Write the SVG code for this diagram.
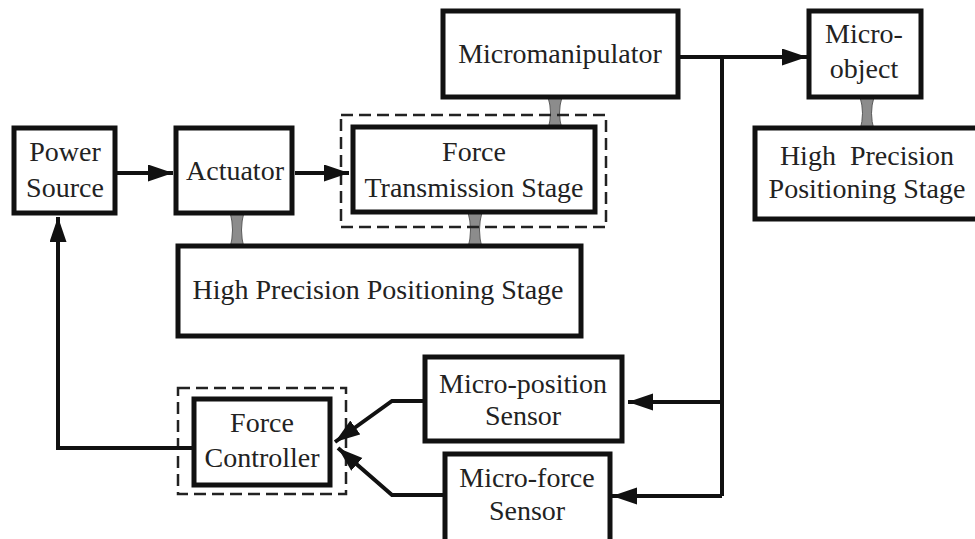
<svg xmlns="http://www.w3.org/2000/svg" width="975" height="539" viewBox="0 0 975 539" font-family="'Liberation Serif', 'Times New Roman', Times, 'DejaVu Serif', serif">
<style>
.box{fill:#fff;stroke:#111;stroke-width:5}
.dash{fill:none;stroke:#222;stroke-width:2.5;stroke-dasharray:12 6}
.ln{fill:none;stroke:#111;stroke-width:4}
.arr{marker-end:url(#ah)}
.hg{fill:#8c8c8c;stroke:#5a5a5a;stroke-width:1}
text{font-family:'Liberation Serif','Times New Roman',Times,'DejaVu Serif',serif;font-size:28px;fill:#222;text-anchor:middle}
</style>
<defs>
<marker id="ah" markerUnits="userSpaceOnUse" markerWidth="26" markerHeight="18" refX="25" refY="8.5" orient="auto">
<path d="M0,0 L25,8.5 L0,17 Z" fill="#111"/>
</marker>
</defs>
<rect width="975" height="539" fill="#fff"/>
<g id="links">
<path class="hg" d="M548,97 L562,97 Q557,113 562,129 L548,129 Q553,113 548,97 Z"/>
<path class="hg" d="M230,212 L244,212 Q239,230 244,248 L230,248 Q235,230 230,212 Z"/>
<path class="hg" d="M468,212 L482,212 Q477,230 482,248 L468,248 Q473,230 468,212 Z"/>
<path class="hg" d="M860,97 L874,97 Q869,113 874,130 L860,130 Q865,113 860,97 Z"/>
</g>
<g id="dashed-groups">
<rect class="dash" x="341" y="115" width="265" height="112"/>
<rect class="dash" x="178" y="388" width="168" height="106"/>
</g>
<g id="power-source">
<rect class="box" x="14" y="128" width="101" height="85"/>
<text x="65" y="161">Power</text>
<text x="65" y="197">Source</text>
</g>
<g id="actuator">
<rect class="box" x="176" y="128" width="116" height="85"/>
<text x="235" y="180">Actuator</text>
</g>
<g id="force-transmission-stage">
<rect class="box" x="353" y="127" width="242" height="85"/>
<text x="474" y="161">Force</text>
<text x="474" y="197">Transmission Stage</text>
</g>
<g id="micromanipulator">
<rect class="box" x="443" y="11" width="235" height="86"/>
<text x="560" y="63">Micromanipulator</text>
</g>
<g id="micro-object">
<rect class="box" x="809" y="11" width="112" height="86"/>
<text x="864" y="43">Micro-</text>
<text x="864" y="78">object</text>
</g>
<g id="hpps-right">
<rect class="box" x="755" y="128" width="235" height="91"/>
<text x="867" y="165" xml:space="preserve">High  Precision</text>
<text x="867" y="198">Positioning Stage</text>
</g>
<g id="hpps-main">
<rect class="box" x="178" y="246" width="403" height="90"/>
<text x="378" y="299">High Precision Positioning Stage</text>
</g>
<g id="force-controller">
<rect class="box" x="194" y="399" width="136" height="86"/>
<text x="262" y="432">Force</text>
<text x="262" y="467">Controller</text>
</g>
<g id="micro-position-sensor">
<rect class="box" x="425" y="357" width="197" height="84"/>
<text x="523" y="393">Micro-position</text>
<text x="523" y="425">Sensor</text>
</g>
<g id="micro-force-sensor">
<rect class="box" x="445" y="454" width="165" height="92"/>
<text x="527" y="487">Micro-force</text>
<text x="527" y="520">Sensor</text>
</g>
<g id="connectors">
<path class="ln arr" d="M117,173 H173"/>
<path class="ln arr" d="M295,173 H349"/>
<path class="ln arr" d="M680,57 H807"/>
<path class="ln" d="M722,57 V496"/>
<path class="ln arr" d="M722,402 H628"/>
<path class="ln arr" d="M722,496 H612"/>
<path class="ln arr" d="M423,401 H392 L335,442"/>
<path class="ln arr" d="M443,495 H392 L338,448"/>
<path class="ln arr" d="M192,448 H58 V217"/>
</g>
</svg>
